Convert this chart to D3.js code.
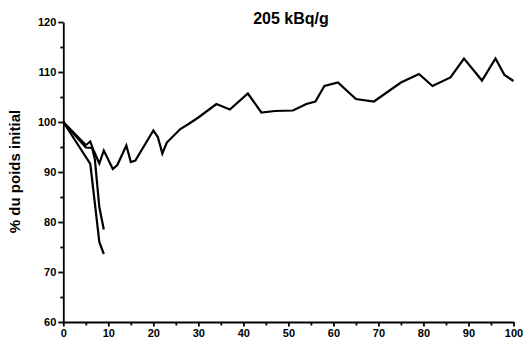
<!DOCTYPE html>
<html>
<head>
<meta charset="utf-8">
<script src="https://cdn.jsdelivr.net/npm/d3@7"></script>
<style>
  html, body { margin: 0; padding: 0; background: #fff; }
  svg { display: block; font-family: Arial, "Liberation Sans", sans-serif; }
</style>
</head>
<body>
<svg id="chart" width="523" height="339"></svg>
<script>
// Body weight follow-up, three animals, in % of initial weight vs days
const title = "205 kBq/g";
const yLabel = "% du poids initial";

const daysA = [0, 5, 6, 6.5, 8, 9, 11, 12, 14, 15, 16, 20, 21, 22, 23, 26, 28, 30, 34, 37, 41, 44, 47, 51, 54, 56, 58, 61, 65, 69, 72, 75, 79, 82, 86, 89, 93, 96, 98, 100];
const weightA = [100, 95.4, 96.1, 94.8, 91.7, 94.3, 90.6, 91.4, 95.3, 92, 92.3, 98.3, 97, 93.7, 95.9, 98.6, 99.7, 100.9, 103.6, 102.5, 105.7, 101.9, 102.2, 102.3, 103.6, 104.1, 107.2, 107.9, 104.6, 104.1, 106, 107.9, 109.6, 107.2, 108.9, 112.7, 108.3, 112.7, 109.4, 108.2];

const daysB = [0, 5, 6.4, 7, 8, 9];
const weightB = [100, 94.9, 94.8, 92.6, 83, 78.5];

const daysC = [0, 6, 8, 9];
const weightC = [100, 91.6, 76, 73.6];

const xTicks = [0, 10, 20, 30, 40, 50, 60, 70, 80, 90, 100];
const xMinor = [5, 15, 25, 35, 45, 55, 65, 75, 85, 95];
const yTicks = [60, 70, 80, 90, 100, 110, 120];
const yMinor = [65, 75, 85, 95, 105, 115];

const series = [
  { x: daysA, y: weightA },
  { x: daysB, y: weightB },
  { x: daysC, y: weightC }
];

const svg = d3.select("#chart");
const plotLeft = 63.3, plotRight = 513.5, plotTop = 22, plotBottom = 322;

const x = d3.scaleLinear().domain([0, 100]).range([plotLeft, plotRight]);
const y = d3.scaleLinear().domain([60, 120]).range([plotBottom, plotTop]);

// minor ticks
const gx = svg.append("g").attr("transform", `translate(0,${plotBottom})`);
gx.call(d3.axisBottom(x).tickValues(xMinor).tickSize(3.5).tickFormat(""));
gx.selectAll("path").remove();
const gy = svg.append("g").attr("transform", `translate(${plotLeft},0)`);
gy.call(d3.axisLeft(y).tickValues(yMinor).tickSize(3).tickFormat(""));
gy.selectAll("path").remove();

// major axes
svg.append("g").attr("transform", `translate(0,${plotBottom})`)
  .call(d3.axisBottom(x).tickValues(xTicks).tickSize(4.5).tickSizeOuter(0).tickPadding(3).tickFormat(d3.format("d")));
svg.append("g").attr("transform", `translate(${plotLeft},0)`)
  .call(d3.axisLeft(y).tickValues(yTicks).tickSize(5).tickSizeOuter(0).tickPadding(2).tickFormat(d3.format("d")));

svg.selectAll(".domain, .tick line")
  .attr("stroke", "#000").attr("stroke-width", 1.8);
svg.selectAll(".tick text")
  .attr("fill", "#000").attr("font-size", 11).attr("font-weight", "bold")
  .attr("font-family", "Arial, 'Liberation Sans', sans-serif");

// data lines
const line = d3.line().x(d => x(d[0])).y(d => y(d[1]));
svg.append("g").selectAll("path")
  .data(series)
  .join("path")
  .attr("d", s => line(s.x.map((v, i) => [v, s.y[i]])))
  .attr("fill", "none")
  .attr("stroke", "#000")
  .attr("stroke-width", 2.2)
  .attr("stroke-linejoin", "miter");

// title
svg.append("text")
  .attr("x", 291).attr("y", 24)
  .attr("text-anchor", "middle")
  .attr("font-size", 16).attr("font-weight", "bold")
  .text(title);

// y-axis label
svg.append("text")
  .attr("transform", `translate(20,171.5) rotate(-90)`)
  .attr("text-anchor", "middle")
  .attr("font-size", 15).attr("font-weight", "bold")
  .text(yLabel);
</script>
</body>
</html>
